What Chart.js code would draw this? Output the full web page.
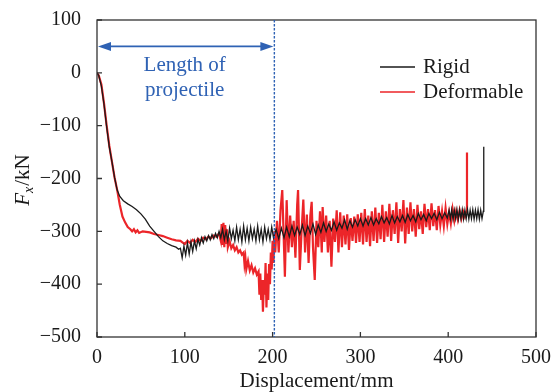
<!DOCTYPE html>
<html>
<head>
<meta charset="utf-8">
<script src="https://cdn.jsdelivr.net/npm/chart.js@4/dist/chart.umd.min.js"></script>
<style>
  html, body { margin: 0; padding: 0; background: #fff; }
  #wrap { width: 552px; height: 392px; }
</style>
</head>
<body>
<div id="wrap"><canvas id="myChart"></canvas></div>
<script>
// *** data
const seriesNames = ["Rigid", "Deformable"];
const xTicks = [0, 100, 200, 300, 400, 500];
const yTicks = [-500, -400, -300, -200, -100, 0, 100];
const projectileLength = 202; // mm, dashed line
const arrowLevel = 50; // kN

const rigidX = [0, 2, 5, 8, 11, 14, 17, 20, 23, 26, 30, 35, 40, 45, 50, 55, 60, 65, 70, 75, 80, 85, 90, 93, 95,
  97, 99, 101, 103, 105, 107, 109, 111, 113, 115, 117, 119, 121, 123, 125, 127, 129, 131, 133, 135, 137, 139, 141,
  143, 145, 147, 149, 151, 153, 155, 157, 159, 161, 163, 165, 167, 169, 171, 173, 175, 177, 179, 181, 183, 185,
  187, 189, 191, 193, 195, 197, 199, 201, 204, 207, 210, 213, 216, 219, 222, 225, 228, 231, 234, 237, 240, 243,
  246, 249, 252, 255, 258, 261, 264, 267, 270, 273, 276, 279, 282, 285, 288, 291, 294, 297, 300, 303, 306, 309,
  312, 315, 318, 321, 324, 327, 330, 333, 336, 339, 342, 345, 348, 351, 354, 357, 360, 363, 366, 369, 372, 375,
  378, 381, 384, 387, 390, 393, 396, 399, 401, 402.5, 404, 405.5, 407, 408.5, 410, 411.5, 413, 414.5, 416, 417.5,
  419, 420.5, 422, 423.5, 425, 426.5, 428, 429.5, 431, 432.5, 434, 435.5, 437, 438.5, 440, 440.5];
const rigidF = [0, -5, -25, -60, -102, -140, -168, -198, -222, -234, -242, -248, -253, -259, -267, -277, -290, -300, -310, -318, -323, -327, -330, -334, -332,
  -350, -328, -345, -322, -343, -320, -338, -318, -333, -315, -326, -312, -322, -310, -318, -308, -316, -306, -314, -304, -312, -300, -312,
  -296, -316, -300, -318, -294, -314, -298, -318, -292, -316, -296, -320, -290, -316, -294, -318, -292, -314, -296, -318, -290, -316,
  -296, -320, -292, -314, -296, -316, -292, -312, -296, -314, -294, -312, -292, -310, -290, -308, -292, -306, -288, -308, -290, -304,
  -286, -306, -288, -302, -284, -300, -286, -298, -282, -298, -284, -294, -278, -296, -280, -292, -278, -290, -276, -290, -276, -288,
  -274, -288, -276, -286, -272, -284, -274, -286, -270, -284, -272, -282, -270, -283, -268, -280, -270, -282, -266, -278, -268, -280,
  -266, -276, -266, -278, -264, -276, -265, -275, -260, -276, -259, -277, -260, -276, -259, -277, -260, -276, -259, -277,
  -260, -276, -259, -277, -260, -276, -259, -277, -260, -276, -259, -277, -260, -276, -262, -140];

const deformX = [0, 2, 5, 8, 11, 14, 17, 20, 23, 26, 29, 32, 35, 38, 40, 42, 44, 46, 48, 52, 56, 60, 65, 70, 75,
  80, 85, 90, 95, 98, 100, 103, 106, 109, 112, 115, 118, 121, 124, 127, 130, 133, 136, 139, 141, 142, 143, 144,
  145, 146, 147, 148, 149, 151, 153, 155, 157, 159, 161, 163, 165, 167, 168, 169, 170, 172, 174, 176, 178, 180,
  182, 184, 185, 186, 187, 188, 189, 190, 191, 192, 193, 194, 195, 196, 197, 198, 199, 200, 201, 202, 203,
  205, 207, 209, 211, 213, 214, 216, 218, 220, 222, 224, 226, 228, 229, 231, 233, 235, 237, 239, 241, 243, 244.5,
  246, 248, 250, 252, 254, 256, 257, 259, 261, 263, 265, 267, 269, 271, 273, 275, 277, 279, 281, 283, 285, 287,
  289, 291, 293, 295, 297, 299, 301, 303, 305, 307, 309, 311, 313, 315, 317, 319, 321, 323, 325, 327, 329, 331,
  333, 335, 337, 339, 341, 343, 345, 347, 349, 351, 353, 355, 357, 359, 361, 363, 365, 367, 369, 371, 373, 375,
  377, 379, 381, 383, 385, 387, 389, 391, 393, 395, 397, 399, 401, 403, 405, 407, 409, 411, 413, 415, 417, 419,
  420, 421, 421.4];
const deformF = [0, -5, -22, -58, -100, -138, -168, -198, -222, -250, -272, -283, -292, -296, -300, -296, -302, -298, -303, -300, -301, -302, -305, -307, -309,
  -312, -315, -317, -318, -322, -324, -318, -322, -316, -320, -314, -318, -312, -315, -310, -313, -308, -310, -304, -318, -286, -326, -284,
  -330, -288, -322, -296, -330, -318, -332, -326, -336, -330, -340, -336, -344, -340, -362, -350, -372, -356, -374, -364, -378, -370,
  -382, -376, -420, -380, -430, -392, -452, -400, -420, -360, -444, -380, -430, -362, -400, -340, -372, -318, -360, -300, -340,
  -280, -340, -260, -222, -330, -386, -241, -340, -270, -330, -280, -350, -250, -222, -373, -300, -240, -340, -268, -360, -270, -244,
  -330, -392, -280, -330, -262, -340, -254, -320, -270, -340, -280, -367, -276, -320, -260, -340, -264, -330, -270, -325, -268, -335,
  -275, -318, -272, -322, -268, -320, -265, -325, -258, -320, -270, -328, -262, -318, -255, -322, -265, -315, -250, -320, -262, -310,
  -248, -318, -260, -305, -245, -322, -258, -300, -241, -323, -255, -305, -245, -300, -258, -310, -250, -296, -262, -305, -248, -292,
  -258, -298, -247, -290, -260, -298, -252, -288, -262, -290, -256, -286, -264, -285, -258, -280, -262, -278, -260, -276, -262, -272,
  -265, -262, -151];

const pts = (xs, ys) => xs.map((x, i) => ({ x: x, y: ys[i] }));

const serif = "'Liberation Serif', 'DejaVu Serif', serif";
const ink = "#1a1a1a";
const red = "#ec2529";
const blue = "#2f62b4";

// *** box, inner ticks, annotation, legend, y title
const extras = {
  id: "extras",
  afterDraw(chart) {
    const ctx = chart.ctx;
    const a = chart.chartArea;
    const xs = chart.scales.x;
    const ys = chart.scales.y;
    ctx.save();

    // frame
    ctx.strokeStyle = "#333";
    ctx.lineWidth = 1.3;
    ctx.strokeRect(a.left, a.top, a.right - a.left, a.bottom - a.top);
    // inward ticks
    ctx.beginPath();
    yTicks.forEach((v) => {
      const py = ys.getPixelForValue(v);
      ctx.moveTo(a.left, py);
      ctx.lineTo(a.left + 5, py);
    });
    xTicks.forEach((v) => {
      const px = xs.getPixelForValue(v);
      ctx.moveTo(px, a.bottom);
      ctx.lineTo(px, a.bottom - 5);
    });
    ctx.stroke();

    // dashed line at projectile length
    const lx = xs.getPixelForValue(projectileLength);
    ctx.strokeStyle = blue;
    ctx.lineWidth = 1.4;
    ctx.setLineDash([2.5, 1.5]);
    ctx.beginPath();
    ctx.moveTo(lx, a.top);
    ctx.lineTo(lx, a.bottom);
    ctx.stroke();
    ctx.setLineDash([]);

    // double arrow
    const ay = ys.getPixelForValue(arrowLevel);
    const x0 = xs.getPixelForValue(0) + 1;
    const x1 = lx - 1;
    ctx.lineWidth = 1.6;
    ctx.beginPath();
    ctx.moveTo(x0 + 8, ay);
    ctx.lineTo(x1 - 8, ay);
    ctx.stroke();
    ctx.fillStyle = blue;
    ctx.beginPath();
    ctx.moveTo(x0, ay);
    ctx.lineTo(x0 + 13, ay - 4.5);
    ctx.lineTo(x0 + 13, ay + 4.5);
    ctx.closePath();
    ctx.fill();
    ctx.beginPath();
    ctx.moveTo(x1, ay);
    ctx.lineTo(x1 - 13, ay - 4.5);
    ctx.lineTo(x1 - 13, ay + 4.5);
    ctx.closePath();
    ctx.fill();

    ctx.font = "21px " + serif;
    ctx.textAlign = "center";
    ctx.textBaseline = "middle";
    const tx = xs.getPixelForValue(projectileLength / 2) - 1;
    ctx.fillText("Length of", tx, ay + 19);
    ctx.fillText("projectile", tx, ay + 44);

    // legend
    const colors = [ink, red];
    ctx.textAlign = "left";
    seriesNames.forEach((name, i) => {
      const y = a.top + 47 + i * 25;
      ctx.strokeStyle = colors[i];
      ctx.lineWidth = 1.3;
      ctx.beginPath();
      ctx.moveTo(a.left + 283, y);
      ctx.lineTo(a.left + 318, y);
      ctx.stroke();
      ctx.fillStyle = ink;
      ctx.fillText(name, a.left + 326, y);
    });

    // y title: F_x/kN
    ctx.translate(22, (a.top + a.bottom) / 2 + 2);
    ctx.rotate(-Math.PI / 2);
    ctx.fillStyle = ink;
    const fF = "italic 21px " + serif;
    const fSub = "italic 14px " + serif;
    const fRest = "21px " + serif;
    ctx.font = fF; const wF = ctx.measureText("F").width;
    ctx.font = fSub; const wS = ctx.measureText("x").width;
    ctx.font = fRest; const wR = ctx.measureText("/kN").width;
    let cx = -(wF + wS + wR) / 2;
    ctx.textBaseline = "alphabetic";
    ctx.font = fF; ctx.fillText("F", cx, 7); cx += wF;
    ctx.font = fSub; ctx.fillText("x", cx, 11); cx += wS + 1;
    ctx.font = fRest; ctx.fillText("/kN", cx, 7);

    ctx.restore();
  },
};

const config = {
  type: "line",
  data: {
    datasets: [
      {
        label: seriesNames[0],
        data: pts(rigidX, rigidF),
        borderColor: ink,
        borderWidth: 1.3,
        pointRadius: 0,
        tension: 0,
      },
      {
        label: seriesNames[1],
        data: pts(deformX, deformF),
        borderColor: red,
        borderWidth: 2.2,
        pointRadius: 0,
        tension: 0,
      },
    ],
  },
  options: {
    responsive: false,
    animation: false,
    events: [],
    layout: { padding: { top: 20, right: 16, left: 0, bottom: 0 } },
    plugins: { legend: { display: false }, tooltip: { enabled: false } },
    scales: {
      x: {
        type: "linear",
        min: 0,
        max: 500,
        afterFit: (s) => { s.height = 55; s.paddingLeft = 0; s.paddingRight = 0; },
        afterBuildTicks: (s) => { s.ticks = xTicks.map((v) => ({ value: v })); },
        grid: { display: false },
        border: { display: false },
        ticks: { color: ink, font: { family: serif, size: 20 }, padding: 1, maxRotation: 0 },
        title: {
          display: true,
          text: "Displacement/mm",
          color: ink,
          font: { family: serif, size: 21, lineHeight: 1 },
          padding: { top: 0, bottom: 0 },
        },
      },
      y: {
        min: -500,
        max: 100,
        afterFit: (s) => { s.width = 97; s.paddingTop = 0; s.paddingBottom = 0; },
        afterBuildTicks: (s) => { s.ticks = yTicks.map((v) => ({ value: v })); },
        grid: { display: false },
        border: { display: false },
        ticks: {
          color: ink,
          font: { family: serif, size: 20 },
          padding: 8,
          callback: (v) => String(v).replace("-", "\u2212"),
        },
      },
    },
  },
  plugins: [extras],
};

const cv = document.getElementById("myChart");
cv.width = 552;
cv.height = 392;
var myChart = new Chart(cv, config);
</script>
</body>
</html>
